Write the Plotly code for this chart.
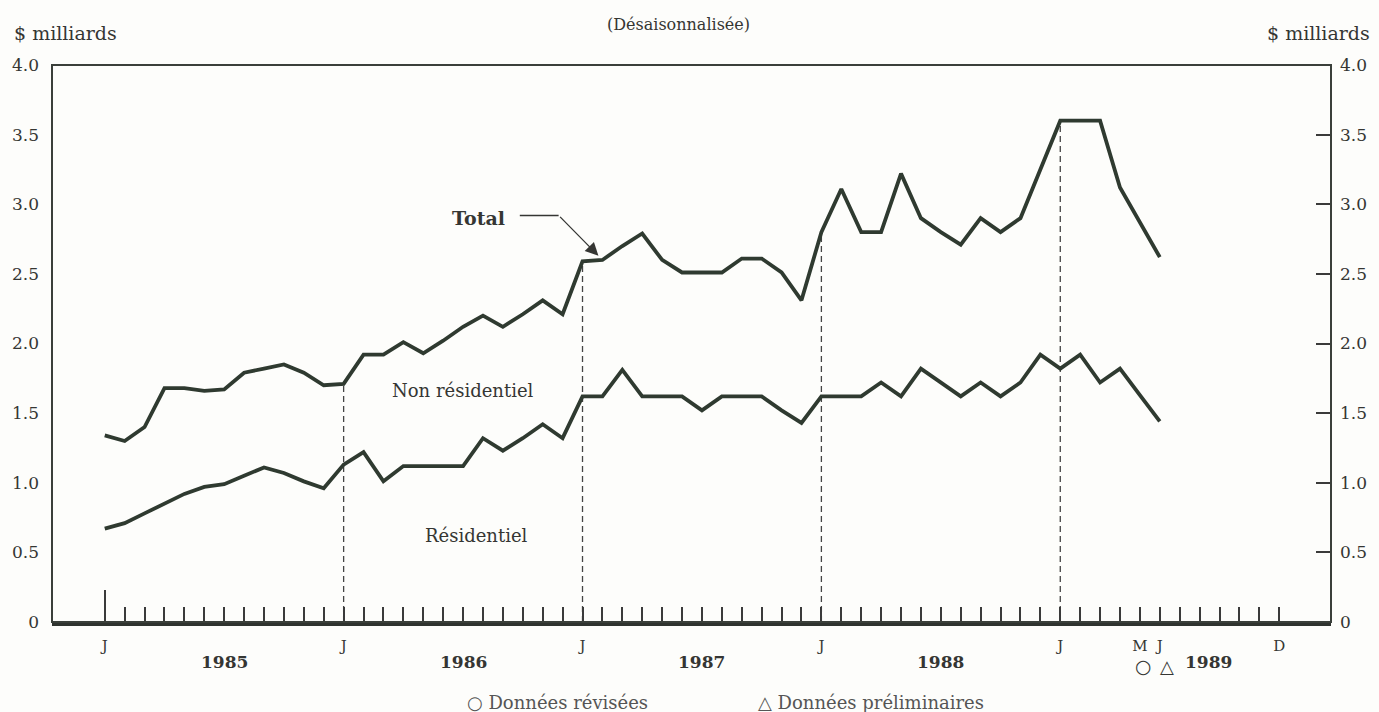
import pandas as pd
import plotly.graph_objects as go

# Monthly periods, January 1985 to June 1989
mois = pd.period_range("1985-01", "1989-06", freq="M")
# Full axis span, January 1985 to December 1989
mois_axe = pd.period_range("1985-01", "1989-12", freq="M")

# Seasonally adjusted values, $ billions
total = [
    1.34, 1.30, 1.40, 1.68, 1.68, 1.66, 1.67, 1.79, 1.82, 1.85, 1.79, 1.70,
    1.71, 1.92, 1.92, 2.01, 1.93, 2.02, 2.12, 2.20, 2.12, 2.21, 2.31, 2.21,
    2.59, 2.60, 2.70, 2.79, 2.60, 2.51, 2.51, 2.51, 2.61, 2.61, 2.51, 2.31,
    2.80, 3.11, 2.80, 2.80, 3.22, 2.90, 2.80, 2.71, 2.90, 2.80, 2.90, 3.25,
    3.60, 3.60, 3.60, 3.12, 2.87, 2.62,
]
residentiel = [
    0.67, 0.71, 0.78, 0.85, 0.92, 0.97, 0.99, 1.05, 1.11, 1.07, 1.01, 0.96,
    1.13, 1.22, 1.01, 1.12, 1.12, 1.12, 1.12, 1.32, 1.23, 1.32, 1.42, 1.32,
    1.62, 1.62, 1.81, 1.62, 1.62, 1.62, 1.52, 1.62, 1.62, 1.62, 1.52, 1.43,
    1.62, 1.62, 1.62, 1.72, 1.62, 1.82, 1.72, 1.62, 1.72, 1.62, 1.72, 1.92,
    1.82, 1.92, 1.72, 1.82, 1.63, 1.44,
]

# Month labels shown under the axis
etiquettes_mois = {"1985-01": "J", "1986-01": "J", "1987-01": "J", "1988-01": "J",
                   "1989-01": "J", "1989-05": "M", "1989-06": "J", "1989-12": "D"}
annees = ["1985", "1986", "1987", "1988", "1989"]
y_ticks = [0, 0.5, 1.0, 1.5, 2.0, 2.5, 3.0, 3.5, 4.0]
y_labels = ["0", "0.5", "1.0", "1.5", "2.0", "2.5", "3.0", "3.5", "4.0"]

origine = pd.Period("1985-01", freq="M")


def idx(p):
    return (pd.Period(p, freq="M") - origine).n


x = [idx(p) for p in mois]
x_axe = [idx(p) for p in mois_axe]

INK = "#2f3a30"
TXT = "#353633"
SERIF = "DejaVu Serif"

fig = go.Figure()
fig.add_trace(go.Scatter(x=x, y=total, mode="lines", line=dict(color=INK, width=3.8),
                         showlegend=False, hoverinfo="skip"))
fig.add_trace(go.Scatter(x=x, y=residentiel, mode="lines", line=dict(color=INK, width=3.8),
                         showlegend=False, hoverinfo="skip"))
# helper traces that activate the right-hand axis and the label axis
fig.add_trace(go.Scatter(x=[x[0]], y=[total[0]], yaxis="y2", mode="lines",
                         line=dict(width=0), showlegend=False, hoverinfo="skip"))
fig.add_trace(go.Scatter(x=[x[0]], y=[total[0]], xaxis="x2", mode="lines",
                         line=dict(width=0), showlegend=False, hoverinfo="skip"))

# dashed January markers, rising to the total line
for p in ["1986-01", "1987-01", "1988-01", "1989-01"]:
    i = idx(p)
    fig.add_shape(type="line", x0=i, x1=i, y0=0, y1=total[i], xref="x", yref="y",
                  line=dict(color="#444", width=1.3, dash="6px,4px"), layer="below")

# frame
fig.add_shape(type="rect", xref="paper", yref="paper", x0=0, x1=1, y0=0, y1=1,
              line=dict(color="#3a3f3a", width=2))

xr = [-2.65, 61.6]
fig.update_layout(
    width=1379, height=712,
    margin=dict(l=50, r=44, t=65, b=90),
    paper_bgcolor="#fdfdfb", plot_bgcolor="#fdfdfb",
    font=dict(family=SERIF, color=TXT, size=14),
    xaxis=dict(range=xr, showgrid=False, zeroline=False, showline=True,
               linecolor="#2f332f", linewidth=3.5,
               tickmode="array", tickvals=[x_axe[0]], ticks="inside", ticklen=32,
               tickwidth=1.6, tickcolor="#3a3a3a", showticklabels=False,
               minor=dict(tickmode="array", tickvals=x_axe, ticks="inside",
                          ticklen=15, tickwidth=1.6, tickcolor="#3a3a3a")),
    xaxis2=dict(range=xr, overlaying="x", side="bottom", anchor="y", showgrid=False,
                zeroline=False, showline=False, ticks="",
                tickmode="array", tickvals=[idx(k) for k in etiquettes_mois],
                ticktext=list(etiquettes_mois.values()),
                tickfont=dict(family=SERIF, size=15, color=TXT),
                ticklabelstandoff=13),
    yaxis=dict(range=[0, 4], showgrid=False, zeroline=False, showline=False,
               tickmode="array", tickvals=y_ticks, ticktext=y_labels, ticks="",
               tickfont=dict(family=SERIF, size=17, color=TXT), ticklabelstandoff=12),
    yaxis2=dict(range=[0, 4], overlaying="y", side="right", anchor="x", showgrid=False,
                zeroline=False, showline=False,
                tickmode="array", tickvals=y_ticks, ticktext=y_labels,
                ticks="inside", ticklen=15, tickwidth=1.6, tickcolor="#3a3a3a",
                tickfont=dict(family=SERIF, size=17, color=TXT), ticklabelstandoff=8),
)

ann = []
ann.append(dict(text="$ milliards", xref="paper", yref="paper", x=-0.031, y=1.058,
                xanchor="left", yanchor="middle", showarrow=False,
                font=dict(family=SERIF, size=19, color=TXT)))
ann.append(dict(text="$ milliards", xref="paper", yref="paper", x=1.032, y=1.058,
                xanchor="right", yanchor="middle", showarrow=False,
                font=dict(family=SERIF, size=19, color=TXT)))
ann.append(dict(text="(Désaisonnalisée)", xref="paper", yref="paper", x=0.49, y=1.073,
                xanchor="center", yanchor="middle", showarrow=False,
                font=dict(family=SERIF, size=16, color=TXT)))

# year labels centred between January markers
for k, a in enumerate(annees):
    xa = 12 * k + 6 if a != "1989" else idx("1989-08") + 0.45
    ann.append(dict(text=f"<b>{a}</b>", x=xa, xref="x", yref="paper", y=-0.072,
                    xanchor="center", yanchor="middle", showarrow=False,
                    font=dict(family=SERIF, size=17, color=TXT)))

# revised / preliminary symbols under May and June 1989
ann.append(dict(text="○", x=idx("1989-05") + 0.2, xref="x", yref="paper", y=-0.102,
                showarrow=False, font=dict(family="DejaVu Sans", size=19, color=TXT)))
ann.append(dict(text="△", x=idx("1989-06") + 0.35, xref="x", yref="paper", y=-0.102,
                showarrow=False, font=dict(family="DejaVu Sans", size=18, color=TXT)))

ann.append(dict(text="○ Données révisées", xref="paper", yref="paper", x=0.395, y=-0.144,
                xanchor="center", yanchor="middle", showarrow=False,
                font=dict(family=SERIF, size=18, color="#555")))
ann.append(dict(text="△ Données préliminaires", xref="paper", yref="paper", x=0.64, y=-0.144,
                xanchor="center", yanchor="middle", showarrow=False,
                font=dict(family=SERIF, size=18, color="#555")))

# series labels
ann.append(dict(text="<b>Total</b>", x=18.75, y=2.90, xref="x", yref="y",
                showarrow=False, font=dict(family=SERIF, size=19, color=TXT)))
ann.append(dict(text="Non résidentiel", x=18.0, y=1.665, xref="x", yref="y",
                showarrow=False, font=dict(family=SERIF, size=18, color=TXT)))
ann.append(dict(text="Résidentiel", x=18.65, y=0.62, xref="x", yref="y",
                showarrow=False, font=dict(family=SERIF, size=18, color=TXT)))

# leader for the Total label: horizontal stroke then arrow to the line
fig.add_shape(type="line", x0=20.85, x1=22.8, y0=2.92, y1=2.92, xref="x", yref="y",
              line=dict(color=TXT, width=1.5))
ann.append(dict(text="", x=24.8, y=2.63, ax=22.8, ay=2.92, xref="x", yref="y",
                axref="x", ayref="y", showarrow=True, arrowhead=2, arrowsize=2,
                arrowwidth=1.3, arrowcolor=TXT, standoff=0, startstandoff=0))

fig.update_layout(annotations=ann)
fig.write_html("out.html")
